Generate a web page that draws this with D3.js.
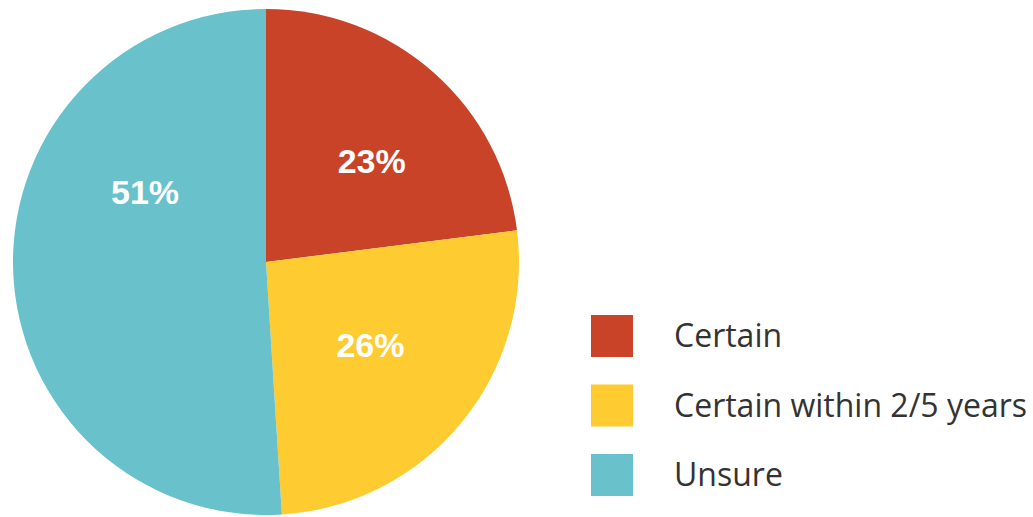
<!DOCTYPE html>
<html>
<head>
<meta charset="utf-8">
<script src="https://cdn.jsdelivr.net/npm/d3@7"></script>
<style>
  body { margin: 0; background: #fff; }
  svg { display: block; }
</style>
</head>
<body>
<div id="chart"></div>
<script>
const categories = ["Certain", "Certain within 2/5 years", "Unsure"];
const values = [23, 26, 51];
const colorsList = ["#C94329", "#FECB31", "#68C1CB"];

const width = 1033, height = 517;
const cx = 266, cy = 262, radius = 253;

// where each % label sits inside its slice: t = share of the slice's sweep, r = share of radius
const labelPlacement = [
    { t: 0.558, r: 0.579 },
    { t: 0.486, r: 0.526 },
    { t: 0.674, r: 0.553 }
];

const svg = d3.select("#chart").append("svg")
    .attr("width", width)
    .attr("height", height);

const data = categories.map((c, i) => ({ name: c, value: values[i] }));

const color = d3.scaleOrdinal().domain(categories).range(colorsList);

const pie = d3.pie().value(d => d.value).sort(null);
const arc = d3.arc().innerRadius(0).outerRadius(radius);

const g = svg.append("g").attr("transform", `translate(${cx},${cy})`);

const arcs = pie(data);

g.selectAll("path")
    .data(arcs)
    .enter()
    .append("path")
    .attr("d", arc)
    .attr("fill", d => color(d.data.name));

const labelPos = (d, i) => {
    const p = labelPlacement[i];
    const a = d.startAngle + (d.endAngle - d.startAngle) * p.t;
    const r = radius * p.r;
    return [r * Math.sin(a), -r * Math.cos(a)];
};

g.selectAll(".lbl")
    .data(arcs)
    .enter()
    .append("text")
    .attr("class", "lbl")
    .attr("transform", (d, i) => `translate(${labelPos(d, i)})`)
    .attr("text-anchor", "middle")
    .attr("dy", "0.36em")
    .style("font-family", "'Liberation Sans', Arial, sans-serif")
    .style("font-weight", "bold")
    .style("font-size", "34px")
    .style("fill", "#fff")
    .text(d => d.data.value + "%");

// legend
const legend = svg.append("g").attr("transform", "translate(591,315)");

const rows = legend.selectAll(".row")
    .data(data)
    .enter()
    .append("g")
    .attr("class", "row")
    .attr("transform", (d, i) => `translate(0, ${i * 69.5})`);

rows.append("rect")
    .attr("width", 42)
    .attr("height", 42)
    .attr("fill", d => color(d.name));

rows.append("text")
    .attr("x", 83)
    .attr("y", 32)
    .style("font-family", "'Open Sans', sans-serif")
    .style("font-size", "32px")
    .style("fill", "#333")
    .text(d => d.name);
</script>
</body>
</html>
